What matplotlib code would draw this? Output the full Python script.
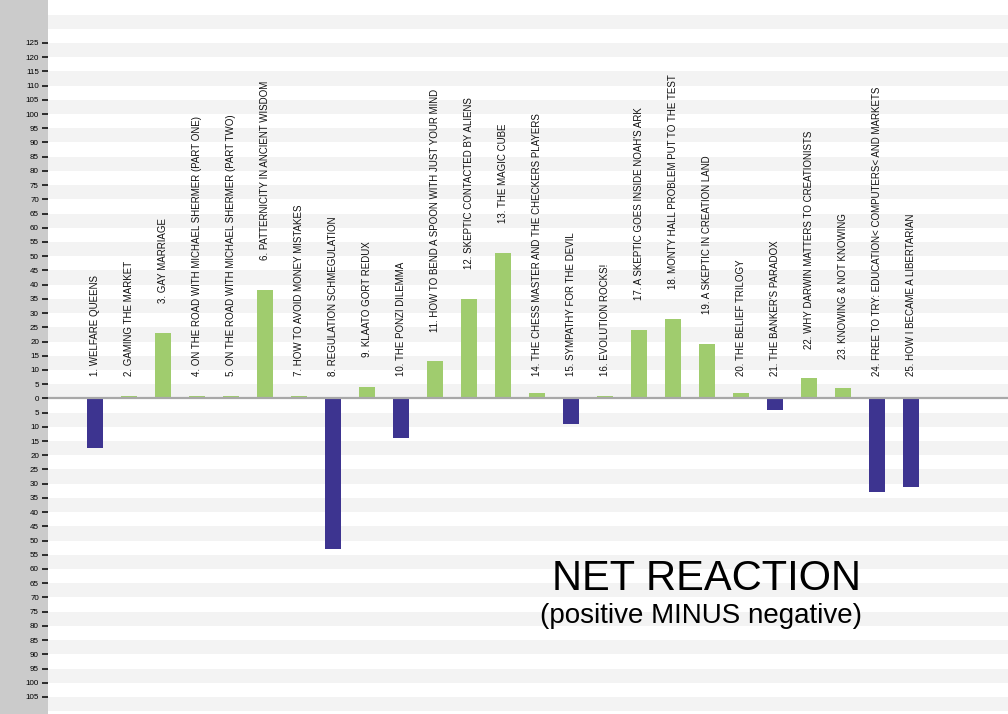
import matplotlib
matplotlib.use("Agg")
import matplotlib.pyplot as plt
import numpy as np

# episode titles and net reaction (positive minus negative)
titles = [
    "1. WELFARE QUEENS",
    "2. GAMING THE MARKET",
    "3. GAY MARRIAGE",
    "4. ON THE ROAD WITH MICHAEL SHERMER (PART ONE)",
    "5. ON THE ROAD WITH MICHAEL SHERMER (PART TWO)",
    "6. PATTERNICITY IN ANCIENT WISDOM",
    "7. HOW TO AVOID MONEY MISTAKES",
    "8. REGULATION SCHMEGULATION",
    "9. KLAATO GORT REDUX",
    "10. THE PONZI DILEMMA",
    "11. HOW TO BEND A SPOON WITH JUST YOUR MIND",
    "12. SKEPTIC CONTACTED BY ALIENS",
    "13. THE MAGIC CUBE",
    "14. THE CHESS MASTER AND THE CHECKERS PLAYERS",
    "15. SYMPATHY FOR THE DEVIL",
    "16. EVOLUTION ROCKS!",
    "17. A SKEPTIC GOES INSIDE NOAH'S ARK",
    "18. MONTY HALL PROBLEM PUT TO THE TEST",
    "19. A SKEPTIC IN CREATION LAND",
    "20. THE BELIEF TRILOGY",
    "21. THE BANKER'S PARADOX",
    "22. WHY DARWIN MATTERS TO CREATIONISTS",
    "23. KNOWING & NOT KNOWING",
    "24. FREE TO TRY: EDUCATION< COMPUTERS< AND MARKETS",
    "25. HOW I BECAME A LIBERTARIAN",
]
net_values = [-17.5, 1, 23, 1, 1, 38, 1, -53, 4, -14, 13, 35, 51, 2, -9,
              1, 24, 28, 19, 2, -4, 7, 3.5, -33, -31]

tick_values = list(range(-105, 126, 5))
tick_labels = [str(abs(t)) for t in tick_values]

GREEN = "#a0cc6e"
NAVY = "#3d3490"

plt.rcParams["font.family"] = ["Liberation Sans", "DejaVu Sans"]

fig = plt.figure(figsize=(10.08, 7.14), dpi=100, facecolor="#cbcbcb")
ax = fig.add_axes([48 / 1008, 0, 960 / 1008, 1])
ax.set_facecolor("white")

ymin, ymax = -111.0, 140.1
x = np.arange(1, len(net_values) + 1)

# alternating background bands, 5 units each
for lo in range(-120, 150, 10):
    ax.axhspan(lo, lo + 5, color="#f3f3f3", lw=0, zorder=0)

colors = [GREEN if v >= 0 else NAVY for v in net_values]
ax.bar(x, net_values, width=0.49, color=colors, zorder=2)
ax.axhline(0, color="#a8a8a8", lw=1.6, zorder=3)

for xi, v, t in zip(x, net_values, titles):
    ly = 8 if v < 3 else v + 10.5
    ax.text(xi, ly, t, rotation=90, ha="center", va="bottom",
            fontsize=7, color="#111111", zorder=4)

ax.set_xlim(-0.38, 27.85)
ax.set_ylim(ymin, ymax)
ax.set_xticks([])
ax.set_yticks(tick_values)
ax.set_yticklabels(tick_labels)
ax.tick_params(axis="y", direction="out", length=4.5, width=1.1,
               pad=2, labelsize=5.8, colors="black")
for s in ax.spines.values():
    s.set_visible(False)

ax.text(0.847, 0.174, "NET REACTION", transform=ax.transAxes,
        ha="right", va="baseline", fontsize=30, color="black")
ax.text(0.848, 0.128, "(positive MINUS negative)", transform=ax.transAxes,
        ha="right", va="baseline", fontsize=20, color="black")

fig.savefig("out.png", dpi=100, facecolor=fig.get_facecolor())
